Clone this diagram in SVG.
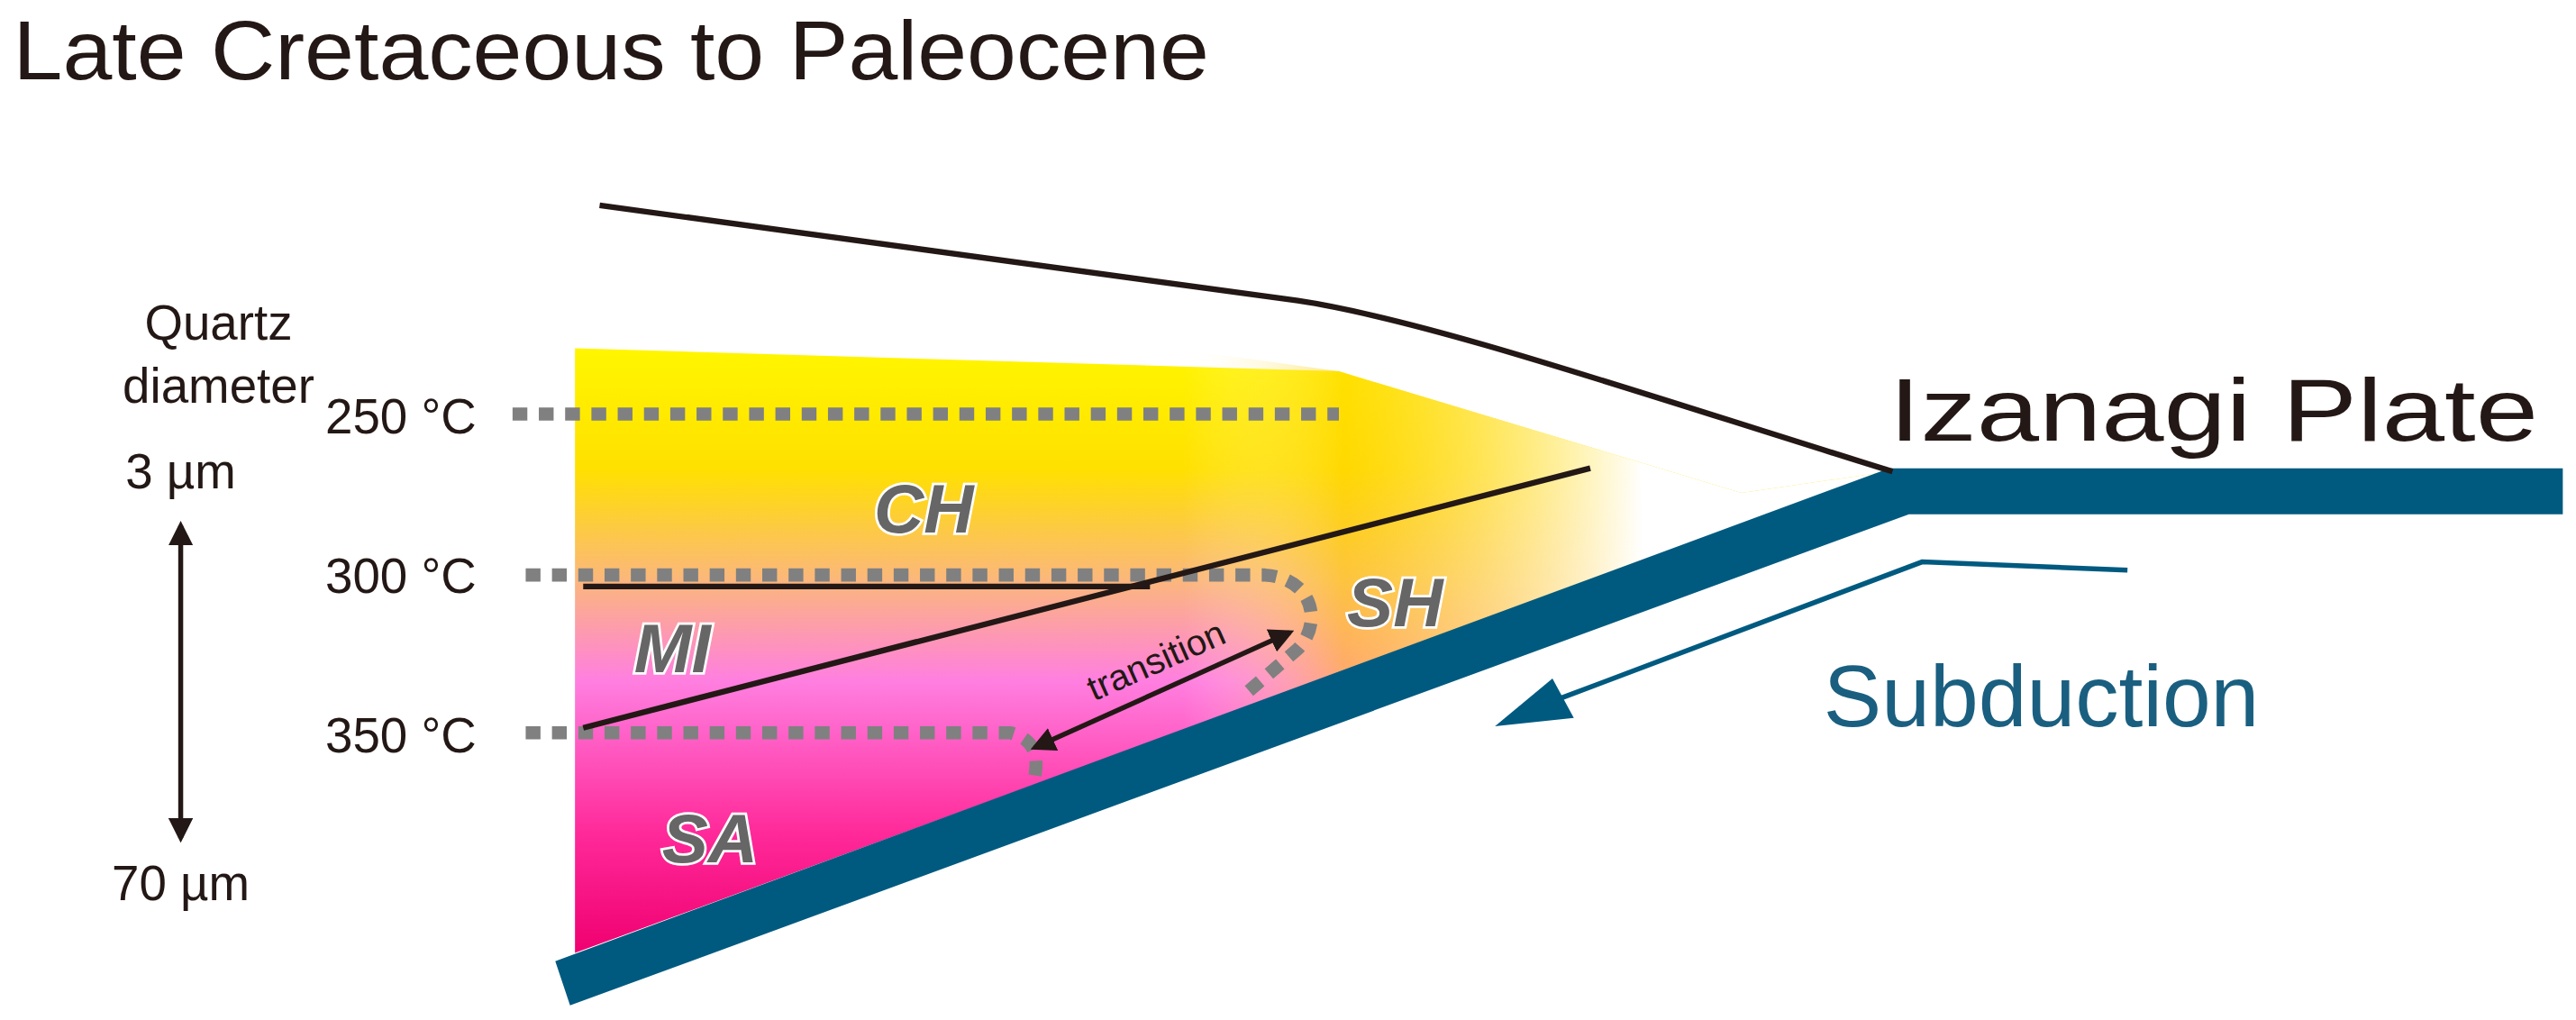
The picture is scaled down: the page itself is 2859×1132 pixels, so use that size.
<svg xmlns="http://www.w3.org/2000/svg" width="2859" height="1132" viewBox="0 0 2859 1132">
<style>
.t{font-family:"Liberation Sans",Arial,sans-serif;fill:#231815}
.lab{font-family:"Liberation Sans",Arial,sans-serif;font-weight:bold;font-style:italic;font-size:42px;fill:#666;stroke:#fff;stroke-width:3;paint-order:stroke}
.dot{fill:none;stroke:#808080;stroke-width:8;stroke-dasharray:9,7}
.blk{fill:none;stroke:#231815;stroke-width:3.5}
</style>
<defs>
<linearGradient id="wg" x1="0" y1="0" x2="0" y2="1">
<stop offset="0" stop-color="#fff600"/>
<stop offset="0.2" stop-color="#ffe000"/>
<stop offset="0.38" stop-color="#fbb87a"/>
<stop offset="0.55" stop-color="#ff7fe0"/>
<stop offset="0.8" stop-color="#ff2a9a"/>
<stop offset="1" stop-color="#f00070"/>
</linearGradient>
<linearGradient id="fade" x1="720" y1="0" x2="1000" y2="0" gradientUnits="userSpaceOnUse">
<stop offset="0" stop-color="#fff" stop-opacity="0"/>
<stop offset="0.35" stop-color="#ffd000" stop-opacity="0.5"/>
<stop offset="1" stop-color="#fff" stop-opacity="1"/>
</linearGradient>
<marker id="ah" viewBox="0 0 10 10" refX="8" refY="5" markerWidth="5" markerHeight="5" orient="auto-start-reverse"><path d="M0,0L10,5L0,10z" fill="#231815"/></marker>
</defs>
<g transform="scale(1.8233)">
<text class="t" x="8" y="48" font-size="51" textLength="728" lengthAdjust="spacingAndGlyphs">Late Cretaceous to Paleocene</text>
<g id="wedge">
<path d="M350,212 L815,226 L1060,300 L1150,287 L350,580 Z" fill="url(#wg)"/>
<path d="M700,210 L815,226 L1060,300 L1150,287 L700,452 Z" fill="url(#fade)"/>
</g>
<g id="plate"><path d="M338,585 L1150,285 L1560,285 L1560,313 L1162,313 L347,612 Z" fill="#005a80"/></g>
<g id="surface"><path class="blk" d="M365,125 L790,183 C870,195 1000,240 1152,287"/></g>
<g id="isotherms">
<path class="dot" d="M312,252 L815,252"/>
<path class="dot" d="M320,350 L770,350 C800,352 805,380 790,395 L755,425"/>
<path class="dot" d="M320,446 L615,446 C630,450 632,460 630,472"/>
</g>
<g id="boundaries">
<path class="blk" d="M355,357 L700,357"/>
<path class="blk" d="M355,443 L968,285"/>
</g>
<g id="transition">
<path d="M630,455 L785,385" stroke="#231815" stroke-width="3" marker-start="url(#ah)" marker-end="url(#ah)"/>
<text class="t" font-size="22" transform="translate(666,427) rotate(-24)">transition</text>
</g>
<text class="lab" x="532" y="324">CH</text>
<text class="lab" x="386" y="409">MI</text>
<text class="lab" x="820" y="381">SH</text>
<text class="lab" x="403" y="525">SA</text>
<g id="scale" class="t" font-size="30" text-anchor="middle">
<text x="133" y="207">Quartz</text>
<text x="133" y="245">diameter</text>
<text x="110" y="297">3 µm</text>
<text x="110" y="548">70 µm</text>
<path d="M110,320 L110,510" stroke="#231815" stroke-width="3" marker-start="url(#ah)" marker-end="url(#ah)"/>
</g>
<g class="t" font-size="30">
<text x="198" y="264">250 °C</text>
<text x="198" y="361">300 °C</text>
<text x="198" y="458">350 °C</text>
</g>
<text class="t" x="1150" y="268" font-size="54" textLength="395" lengthAdjust="spacingAndGlyphs">Izanagi Plate</text>
<g id="subduction">
<path d="M1295,347 L1170,342 L950,425" fill="none" stroke="#005a80" stroke-width="3"/>
<path d="M910,442 L945,413 L958,437 Z" fill="#005a80"/>
<text x="1110" y="442" font-size="53" font-family="Liberation Sans,Arial,sans-serif" fill="#1a5f80">Subduction</text>
</g>
</g>
</svg>
